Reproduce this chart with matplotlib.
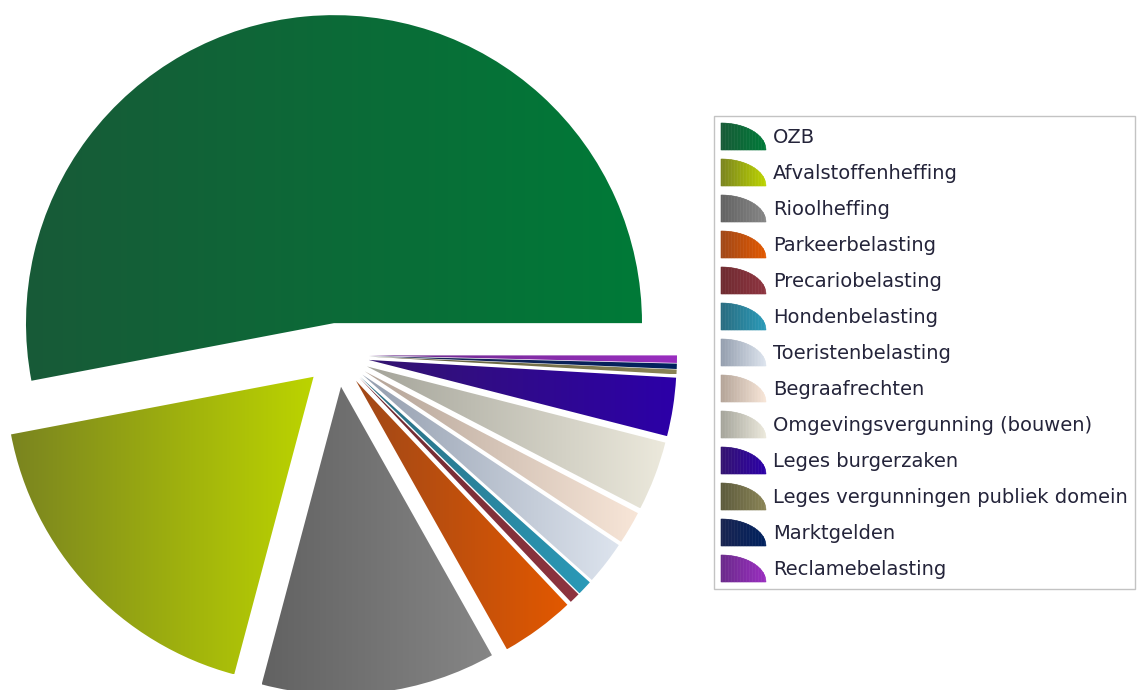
import numpy as np
import matplotlib
matplotlib.use('Agg')
import matplotlib.pyplot as plt
from matplotlib.patches import Polygon
from matplotlib.legend_handler import HandlerBase
from matplotlib.colors import to_rgb

# share of total tax income (%)
categories = ['OZB', 'Afvalstoffenheffing', 'Rioolheffing', 'Parkeerbelasting',
              'Precariobelasting', 'Hondenbelasting', 'Toeristenbelasting',
              'Begraafrechten', 'Omgevingsvergunning (bouwen)', 'Leges burgerzaken',
              'Leges vergunningen publiek domein', 'Marktgelden', 'Reclamebelasting']
shares = [53.0, 17.86, 12.3, 3.89, 0.56, 0.78, 2.28, 1.72, 3.64, 3.06, 0.25, 0.28, 0.39]

# gradient colours (left, right) per slice
left_colors = ['#185a37', '#7a8420', '#626262', '#a04818', '#6e2a30', '#2a6c80',
               '#949eae', '#b4a498', '#a4a49a', '#341470', '#5c5a3c', '#1a2450', '#6a2a8a']
right_colors = ['#007a38', '#bcd400', '#868686', '#e25800', '#8e3440', '#2a9ab8',
                '#dde4ee', '#f8e6d8', '#ece9dc', '#2c00a8', '#8a8456', '#00215e', '#9a2ec0']


def lerp(c0, c1, t):
    a, b = np.array(to_rgb(c0)), np.array(to_rgb(c1))
    return a + (b - a) * t


class GradHandle:
    def __init__(self, c0, c1):
        self.colors = (c0, c1)


class QuarterHandler(HandlerBase):
    """Quarter-ellipse legend key with horizontal gradient."""
    def create_artists(self, legend, orig_handle, xdescent, ydescent,
                       width, height, fontsize, trans):
        c0, c1 = orig_handle.colors
        arts = []
        n = 30
        for i in range(n):
            x0, x1 = i / n, (i + 1) / n
            xs = np.linspace(x0, x1, 6)
            ys = np.sqrt(np.clip(1 - xs ** 2, 0, 1))
            verts = [(x0, 0)] + list(zip(xs, ys)) + [(x1, 0)]
            verts = [(-xdescent + x * width, -ydescent + y * height) for x, y in verts]
            col = lerp(c0, c1, (i + 0.5) / n)
            arts.append(Polygon(verts, closed=True, facecolor=col, edgecolor=col,
                                lw=0.4, transform=trans))
        return arts


W, H = 1137, 690
fig = plt.figure(figsize=(W / 100, H / 100), dpi=100)
ax = fig.add_axes([0, 0, 1, 1])

radius = 308
center = (337, H - 355)
# explode offset is in data units here (pixels)
wedges, _ = ax.pie(shares, radius=radius, center=center, startangle=0,
                   counterclock=True, explode=[32] * len(shares),
                   wedgeprops=dict(edgecolor='none'))

for w, c0, c1 in zip(wedges, left_colors, right_colors):
    verts = w.get_path().vertices
    xmin, xmax = verts[:, 0].min(), verts[:, 0].max()
    ymin, ymax = verts[:, 1].min(), verts[:, 1].max()
    t = np.linspace(0, 1, 256)
    grad = np.array([lerp(c0, c1, v) for v in t])[None, :, :]
    im = ax.imshow(grad, extent=(xmin, xmax, ymin, ymax), aspect='auto',
                   interpolation='bilinear', zorder=2)
    im.set_clip_path(w)
    w.set_facecolor('none')

ax.set_xlim(0, W)
ax.set_ylim(0, H)
ax.set_aspect('auto')
ax.axis('off')

handles = [GradHandle(a, b) for a, b in zip(left_colors, right_colors)]
fs = 14
px = fs * 100 / 72
# handle height 27 px: fs*h - 0.35*fs*(h - 0.7) = 27
hh = (27 / px - 0.245) / 0.65
leg = fig.legend(handles, categories, handler_map={GradHandle: QuarterHandler()},
                 loc='upper left', bbox_to_anchor=(714 / W, 1 - 116 / H),
                 bbox_transform=fig.transFigure, frameon=True, fancybox=False,
                 fontsize=fs, handlelength=45 / px, handleheight=hh,
                 labelspacing=9 / px, handletextpad=7 / px, borderpad=7 / px,
                 borderaxespad=0)
leg.get_frame().set_edgecolor('#b4b4b4')
leg.get_frame().set_linewidth(1.0)
for txt in leg.get_texts():
    txt.set_color('#24243a')

fig.savefig('out.png', dpi=100)
